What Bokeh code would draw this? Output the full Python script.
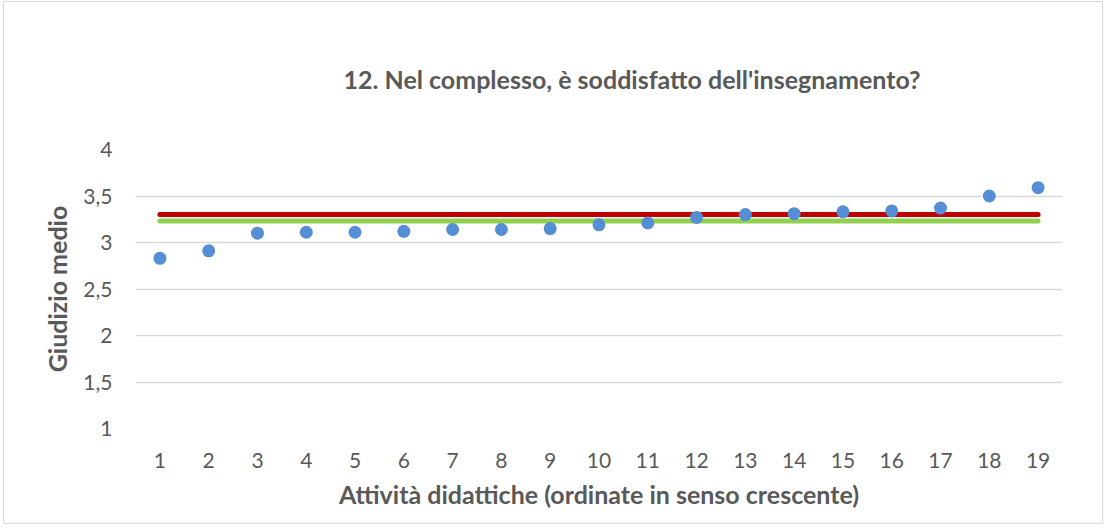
from bokeh.plotting import figure
from bokeh.models import FixedTicker, CustomJSTickFormatter, Range1d
from bokeh.embed import file_html
from bokeh.resources import INLINE

# ---- data ----
activities = list(range(1, 20))
giudizio = [2.83, 2.91, 3.10, 3.11, 3.11, 3.12, 3.14, 3.14, 3.15, 3.19,
            3.21, 3.27, 3.30, 3.31, 3.33, 3.34, 3.37, 3.50, 3.59]
media_rossa = 3.30
media_verde = 3.23
y_ticks = [1, 1.5, 2, 2.5, 3, 3.5, 4]
title_text = "12. Nel complesso, è soddisfatto dell'insegnamento?"
x_title = "Attività didattiche (ordinate in senso crescente)"
y_title = "Giudizio medio"

FONT = "Lato"
TXT = "#595959"

p = figure(width=1100, height=523, output_backend="svg", toolbar_location=None,
           x_range=Range1d(0.5, 19.5), y_range=Range1d(1, 4),
           min_border_left=131, min_border_right=42, min_border_top=147,
           min_border_bottom=97, title=title_text)
p.styles = {"border": "1px solid #D9D9D9", "margin-left": "3px", "margin-top": "1px"}
p.outline_line_color = None
p.background_fill_color = "white"
p.border_fill_color = "white"

p.title.align = "left"
p.title.offset = 208
p.title.standoff = 107
p.title.vertical_align = "top"
p.title.text_font = FONT
p.title.text_font_size = "25px"
p.title.text_font_style = "bold"
p.title.text_color = TXT

# grid
p.xgrid.grid_line_color = None
p.ygrid.grid_line_color = "#D9D9D9"
p.ygrid.grid_line_width = 1.3
p.ygrid.ticker = FixedTicker(ticks=y_ticks)

# axes
p.xaxis.ticker = FixedTicker(ticks=activities)
p.yaxis.ticker = FixedTicker(ticks=y_ticks)
p.yaxis.formatter = CustomJSTickFormatter(code="return tick.toString().replace('.', ',');")
for ax in (p.xaxis, p.yaxis):
    ax.axis_line_color = None
    ax.major_tick_line_color = None
    ax.minor_tick_line_color = None
    ax.major_tick_out = 0
    ax.major_tick_in = 0
    ax.minor_tick_out = 0
    ax.major_label_text_font = FONT
    ax.major_label_text_font_size = "21px"
    ax.major_label_text_color = TXT
    ax.axis_label_text_font = FONT
    ax.axis_label_text_font_size = "25px"
    ax.axis_label_text_font_style = "bold"
    ax.axis_label_text_color = TXT
p.xaxis.axis_label = x_title
p.yaxis.axis_label = y_title
p.xaxis.major_label_standoff = 24
p.xaxis.axis_label_standoff = 8
p.yaxis.major_label_standoff = 23
p.yaxis.axis_label_standoff = 8

# average lines
p.line(x=[activities[0], activities[-1]], y=[media_rossa, media_rossa],
       line_color="#C00000", line_width=5, line_cap="round")
p.line(x=[activities[0], activities[-1]], y=[media_verde, media_verde],
       line_color="#92D050", line_width=5, line_cap="round")

# points
p.scatter(x=activities, y=giudizio, size=13, fill_color="#558ED5",
          line_color="#558ED5", line_width=0)

open("out.html", "w").write(file_html(p, INLINE))
